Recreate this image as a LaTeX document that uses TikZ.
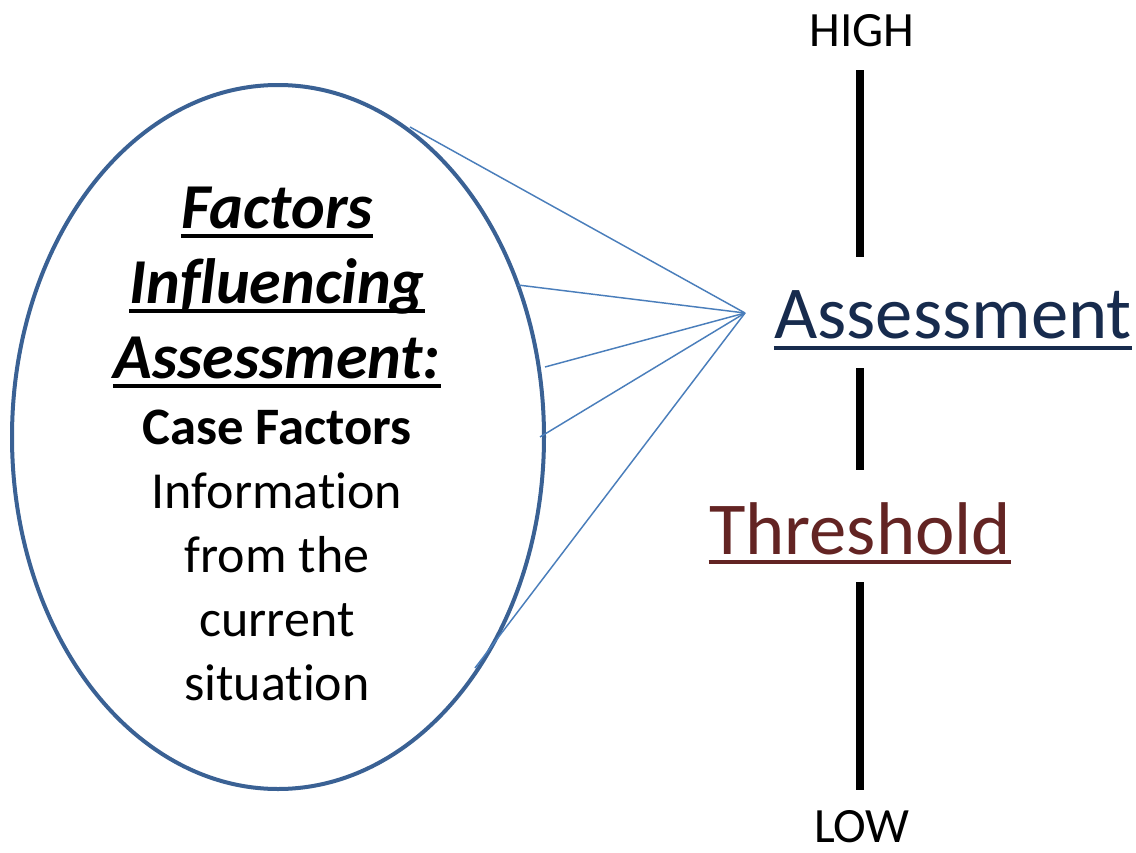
\documentclass[tikz,border=0pt]{standalone}
\usepackage{fontspec}
\setmainfont{Carlito}[Ligatures=NoCommon]
\usetikzlibrary{shapes.geometric}
\definecolor{ellcol}{HTML}{3A6194}
\definecolor{linecol}{HTML}{4A7EBB}
\definecolor{navy}{HTML}{172B4D}
\definecolor{darkred}{HTML}{632423}
\tikzset{
  titletext/.style={font=\fontsize{48}{58}\selectfont\bfseries\itshape, inner sep=0pt, anchor=base},
  casetext/.style={font=\fontsize{39}{47}\selectfont, inner sep=0pt, anchor=base},
  scaletext/.style={font=\fontsize{37}{44}\selectfont, inner sep=0pt, anchor=base},
  bigtext/.style={font=\fontsize{56}{66}\selectfont, inner sep=0pt, anchor=base},
  spoke/.style={draw=linecol, line width=1.1pt},
  bar/.style={draw=black, line width=6pt},
  uline/.style={line width=#1}
}
\begin{document}
\begin{tikzpicture}[x=0.75pt,y=-0.75pt]
\useasboundingbox[fill=white] (0,0) rectangle (1136,853);
% ellipse
\node[ellipse, draw=ellcol, line width=3pt, minimum width=399pt, minimum height=528pt, inner sep=0pt] (ell) at (278,437) {};
% spokes
\coordinate (hub) at (745,313);
\coordinate (p1) at (410,127);
\coordinate (p2) at (518,285);
\coordinate (p3) at (545,367);
\coordinate (p4) at (540,437);
\coordinate (p5) at (475,668);
\foreach \p in {p1,p2,p3,p4,p5} \draw[spoke] (\p) -- (hub);
% title text
\node[titletext] (t1) at (277,228) {Factors};
\node[titletext] (t2) at (277,303) {Influencing};
\node[titletext] (t3) at (277,378) {Assessment:};
\foreach \t in {t1,t2,t3}
  \draw[uline=2.4pt] ([yshift=-6pt]\t.base west) -- ([yshift=-6pt]\t.base east);
\node[casetext, font=\fontsize{39.5}{47}\selectfont\bfseries] (c1) at (277,444) {Case Factors};
\node[casetext] (c2) at (277,508) {Information};
\node[casetext] (c3) at (277,572) {from the};
\node[casetext] (c4) at (277,636) {current};
\node[casetext] (c5) at (277,700) {situation};
% scale
\node[scaletext] (high) at (862,46) {HIGH};
\node[scaletext] (low) at (862,842) {LOW};
\node[bigtext, text=navy] (assess) at (953,338) {Assessment};
\draw[uline=2.8pt, navy] ([yshift=-7.5pt]assess.base west) -- ([yshift=-7.5pt]assess.base east);
\node[bigtext, text=darkred] (thr) at (860,554) {Threshold};
\draw[uline=2.8pt, darkred] ([yshift=-6pt]thr.base west) -- ([yshift=-6pt]thr.base east);
\coordinate (b1t) at (860,70);  \coordinate (b1b) at (860,257);
\coordinate (b2t) at (860,368); \coordinate (b2b) at (860,470);
\coordinate (b3t) at (860,582); \coordinate (b3b) at (860,790);
\draw[bar] (b1t) -- (b1b);
\draw[bar] (b2t) -- (b2b);
\draw[bar] (b3t) -- (b3b);
\end{tikzpicture}
\end{document}
